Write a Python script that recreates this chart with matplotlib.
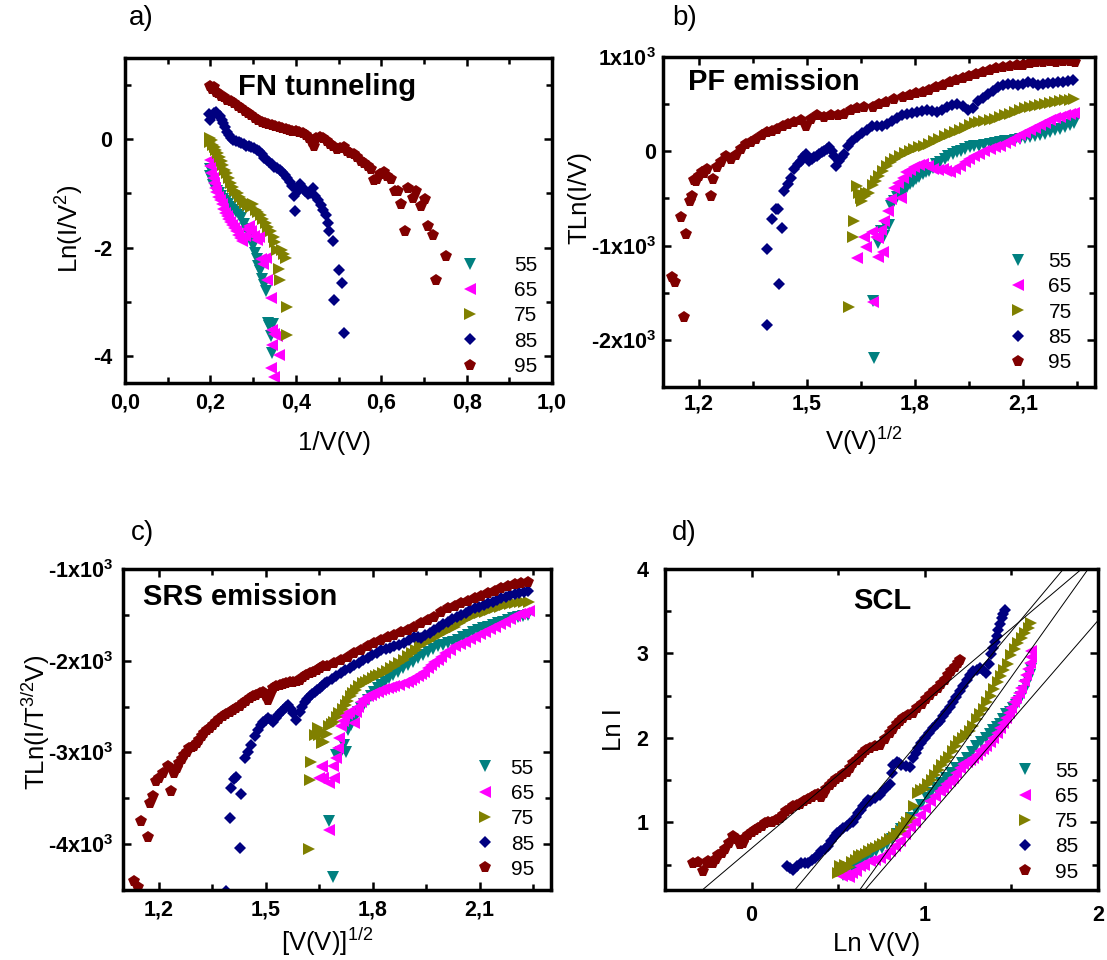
import matplotlib
matplotlib.use('Agg')
import matplotlib.pyplot as plt
import numpy as np

plt.rcParams['font.family'] = 'Liberation Sans'
plt.rcParams['mathtext.fontset'] = 'custom'
plt.rcParams['mathtext.rm'] = 'Liberation Sans'
plt.rcParams['mathtext.it'] = 'Liberation Sans:italic'
plt.rcParams['mathtext.bf'] = 'Liberation Sans:bold'

temps = ['55', '65', '75', '85', '95']
colors = ['#008080', '#ff00ff', '#808000', '#000080', '#800000']
markers = ['v', '<', '>', 'D', 'p']
msizes = [8.6, 8.6, 8.6, 6.1, 8.4]

# a) FN tunneling : (1/V, Ln(I/V^2))
a55 = [(0.198,-0.55),(0.200,-0.68),(0.203,-0.76),(0.207,-0.84),(0.211,-0.90),(0.215,-0.96),(0.220,-1.00),
       (0.225,-1.05),(0.230,-1.10),(0.236,-1.14),(0.242,-1.20),(0.248,-1.25),(0.254,-1.30),(0.260,-1.35),
       (0.266,-1.40),(0.272,-1.46),(0.278,-1.56),(0.284,-1.66),(0.290,-1.76),(0.296,-1.86),(0.300,-1.98),
       (0.304,-2.10),(0.308,-2.22),(0.312,-2.34),(0.316,-2.44),(0.321,-2.58),(0.326,-2.70),(0.330,-2.80),
       (0.334,-3.40),(0.338,-3.45),(0.341,-3.64),(0.346,-3.42),(0.345,-3.95)]
a65 = [(0.198,-0.38),(0.200,-0.50),(0.202,-0.62),(0.205,-0.72),(0.208,-0.80),(0.211,-0.90),(0.214,-0.98),
       (0.218,-1.06),(0.222,-1.12),(0.226,-1.20),(0.230,-1.28),(0.234,-1.36),(0.238,-1.42),(0.242,-1.48),
       (0.246,-1.53),(0.250,-1.58),(0.255,-1.64),(0.260,-1.70),(0.265,-1.76),(0.270,-1.82),(0.275,-1.87),
       (0.280,-1.78),(0.285,-1.65),(0.290,-1.60),(0.296,-1.70),(0.302,-1.78),(0.308,-1.86),(0.314,-1.80),
       (0.318,-2.22),(0.324,-2.30),(0.330,-2.20),(0.333,-2.60),(0.341,-2.93),(0.345,-3.52),(0.350,-3.60),
       (0.356,-3.64),(0.345,-3.80),(0.360,-3.98),(0.341,-4.23),(0.349,-4.38)]
a75 = [(0.198,0.02),(0.200,-0.05),(0.203,-0.02),(0.206,-0.10),(0.210,-0.14),(0.214,-0.20),(0.218,-0.26),
       (0.222,-0.32),(0.226,-0.40),(0.230,-0.48),(0.234,-0.56),(0.238,-0.63),(0.243,-0.72),(0.248,-0.80),
       (0.253,-0.88),(0.258,-0.95),(0.264,-1.00),(0.270,-1.06),(0.276,-1.12),(0.282,-1.18),(0.288,-1.22),
       (0.294,-1.25),(0.300,-1.20),(0.306,-1.30),(0.312,-1.35),(0.318,-1.40),(0.324,-1.47),(0.330,-1.55),
       (0.336,-1.62),(0.342,-1.70),(0.348,-1.80),(0.352,-1.90),(0.356,-2.05),(0.360,-2.40),(0.364,-2.60),
       (0.368,-2.05),(0.372,-2.12),(0.376,-2.20),(0.380,-3.09),(0.380,-3.61)]
a85 = [(0.197,0.47),(0.200,0.36),(0.204,0.42),(0.208,0.48),(0.213,0.50),(0.218,0.45),(0.222,0.42),
       (0.226,0.36),(0.230,0.30),(0.234,0.22),(0.238,0.14),(0.243,0.07),(0.248,0.02),(0.254,-0.01),
       (0.260,-0.03),(0.266,-0.05),(0.272,-0.07),(0.278,-0.09),(0.284,-0.12),(0.290,-0.13),(0.296,-0.15),
       (0.302,-0.16),(0.308,-0.19),(0.314,-0.22),(0.320,-0.27),(0.326,-0.34),(0.332,-0.39),(0.338,-0.42),
       (0.344,-0.46),(0.350,-0.51),(0.356,-0.54),(0.362,-0.56),(0.368,-0.60),(0.374,-0.66),(0.380,-0.72),
       (0.386,-0.79),(0.392,-0.86),(0.396,-1.05),(0.399,-1.33),(0.404,-0.95),(0.410,-0.82),(0.416,-0.90),
       (0.422,-0.96),(0.428,-1.02),(0.434,-1.00),(0.440,-0.90),(0.446,-1.05),(0.452,-1.13),(0.458,-1.22),
       (0.464,-1.30),(0.470,-1.40),(0.475,-1.55),(0.478,-1.70),(0.486,-1.88),(0.489,-2.96),(0.501,-2.41),
       (0.509,-2.66),(0.512,-3.57)]
a95 = [(0.200,0.98),(0.204,0.93),(0.208,0.96),(0.212,0.87),(0.218,0.85),(0.225,0.80),(0.232,0.78),
       (0.240,0.72),(0.248,0.70),(0.256,0.66),(0.264,0.62),(0.272,0.57),(0.280,0.53),(0.288,0.48),
       (0.296,0.44),(0.304,0.40),(0.312,0.36),(0.320,0.32),(0.328,0.30),(0.336,0.28),(0.344,0.27),
       (0.352,0.25),(0.360,0.22),(0.368,0.21),(0.376,0.18),(0.384,0.17),(0.392,0.15),(0.400,0.16),
       (0.408,0.14),(0.416,0.11),(0.424,0.08),(0.432,0.02),(0.438,-0.05),(0.442,-0.12),(0.448,0.02),
       (0.456,0.04),(0.464,0.02),(0.472,-0.04),(0.480,-0.09),(0.488,-0.13),(0.496,-0.18),(0.504,-0.17),
       (0.512,-0.15),(0.520,-0.21),(0.528,-0.25),(0.536,-0.28),(0.544,-0.32),(0.552,-0.40),(0.560,-0.44),
       (0.568,-0.50),(0.576,-0.55),(0.583,-0.76),(0.590,-0.74),(0.598,-0.65),(0.606,-0.61),(0.614,-0.68),
       (0.622,-0.74),(0.633,-0.96),(0.640,-0.96),(0.647,-1.20),(0.655,-1.70),(0.662,-0.90),(0.674,-1.08),
       (0.682,-0.96),(0.694,-1.23),(0.702,-1.11),(0.709,-1.60),(0.721,-1.76),(0.729,-2.60),(0.752,-2.16)]

# b) PF emission : (V^1/2, T Ln(I/V))
b55 = [(1.687,-2190),(1.682,-1590),(1.696,-975),(1.706,-850),(1.713,-900),(1.720,-796),(1.729,-779),
       (1.734,-582),(1.743,-529),(1.750,-490),(1.757,-457),(1.764,-430),(1.771,-404),(1.778,-377),
       (1.785,-350),(1.794,-323),(1.803,-296),(1.812,-270),(1.822,-243),(1.831,-225),(1.840,-207),
       (1.850,-172),(1.859,-136),(1.870,-110),(1.882,-82),(1.893,-55),(1.905,-29),(1.917,-11),(1.928,7),
       (1.940,25),(1.952,43),(1.965,52),(1.979,61),(1.993,70),(2.007,79),(2.021,88),(2.035,96),(2.049,105),
       (2.063,114),(2.077,123),(2.091,132),(2.105,141),(2.119,150),(2.133,159),(2.146,168),(2.160,186),
       (2.174,204),(2.188,221),(2.202,239),(2.216,260),(2.230,280),(2.242,300)]
b65 = [(1.682,-1600),(1.640,-1135),(1.659,-904),(1.664,-1011),(1.680,-860),(1.692,-904),(1.697,-921),
       (1.697,-1118),(1.710,-1064),(1.706,-832),(1.715,-740),(1.724,-636),(1.734,-511),(1.743,-386),
       (1.752,-332),(1.761,-493),(1.768,-280),(1.775,-225),(1.786,-195),(1.798,-171),(1.810,-150),
       (1.822,-136),(1.836,-160),(1.850,-189),(1.863,-195),(1.877,-189),(1.887,-210),(1.896,-225),
       (1.910,-190),(1.924,-154),(1.938,-118),(1.951,-82),(1.965,-55),(1.979,-29),(1.993,0),(2.007,25),
       (2.021,45),(2.035,61),(2.049,90),(2.063,114),(2.077,140),(2.091,168),(2.105,195),(2.119,221),
       (2.133,250),(2.146,275),(2.160,300),(2.174,329),(2.188,350),(2.202,365),(2.216,380),(2.230,395),
       (2.242,405)]
b75 = [(1.617,-1654),(1.627,-914),(1.630,-736),(1.640,-368),(1.645,-440),(1.650,-493),(1.654,-529),
       (1.660,-470),(1.664,-439),(1.673,-439),(1.682,-360),(1.692,-314),(1.701,-260),(1.710,-207),
       (1.722,-160),(1.733,-118),(1.745,-80),(1.757,-46),(1.771,-20),(1.785,7),(1.798,25),(1.812,43),
       (1.826,60),(1.840,79),(1.854,105),(1.868,132),(1.882,160),(1.896,186),(1.910,205),(1.924,221),
       (1.938,250),(1.952,275),(1.966,295),(1.979,311),(1.993,320),(2.007,329),(2.021,345),(2.035,364),
       (2.049,380),(2.063,400),(2.077,420),(2.091,436),(2.105,455),(2.119,471),(2.133,480),(2.146,489),
       (2.160,505),(2.174,515),(2.188,525),(2.202,532),(2.216,540),(2.230,548),(2.242,550)]
b85 = [(1.390,-1843),(1.390,-1036),(1.404,-714),(1.413,-607),(1.420,-610),(1.430,-814),(1.423,-1404),
       (1.437,-421),(1.446,-350),(1.455,-279),(1.464,-189),(1.474,-136),(1.483,-100),(1.490,-60),
       (1.497,-29),(1.506,-100),(1.513,-80),(1.520,-64),(1.527,-50),(1.534,-29),(1.541,-10),(1.548,7),
       (1.555,25),(1.562,43),(1.569,0),(1.576,-46),(1.580,-154),(1.589,-100),(1.596,-60),(1.603,-29),
       (1.613,61),(1.626,114),(1.640,150),(1.652,190),(1.666,221),(1.680,270),(1.694,265),(1.708,270),
       (1.722,290),(1.736,320),(1.750,350),(1.764,380),(1.778,400),(1.792,405),(1.806,418),(1.820,425),
       (1.834,436),(1.848,430),(1.862,418),(1.876,440),(1.890,465),(1.904,490),(1.918,505),(1.932,480),
       (1.946,440),(1.960,460),(1.974,530),(1.988,570),(2.002,605),(2.016,640),(2.030,680),(2.044,700),
       (2.058,715),(2.072,710),(2.086,700),(2.100,715),(2.114,730),(2.128,720),(2.142,705),(2.156,712),
       (2.170,720),(2.184,728),(2.198,735),(2.212,740),(2.226,750),(2.240,760)]
b95 = [(1.126,-1330),(1.133,-1390),(1.158,-1760),(1.150,-700),(1.165,-880),(1.175,-530),(1.181,-470),
       (1.186,-300),(1.193,-320),(1.200,-260),(1.207,-220),(1.214,-230),(1.223,-190),(1.232,-470),
       (1.240,-290),(1.251,-170),(1.260,-110),(1.274,-50),(1.288,-80),(1.302,-40),(1.316,20),(1.330,80),
       (1.344,100),(1.358,130),(1.376,170),(1.390,200),(1.404,220),(1.418,240),(1.432,270),(1.446,290),
       (1.464,310),(1.483,330),(1.497,270),(1.511,345),(1.529,380),(1.548,365),(1.566,385),(1.585,380),
       (1.604,400),(1.622,435),(1.640,455),(1.659,470),(1.682,470),(1.701,500),(1.720,525),(1.743,555),
       (1.766,580),(1.785,595),(1.803,615),(1.822,630),(1.840,650),(1.859,680),(1.877,705),(1.896,730),
       (1.914,755),(1.933,775),(1.951,795),(1.970,820),(1.989,845),(2.007,865),(2.026,880),(2.045,890),
       (2.063,900),(2.082,910),(2.100,920),(2.119,935),(2.137,945),(2.156,950),(2.174,955),(2.193,950),
       (2.211,958),(2.230,962),(2.245,950)]

# c) SRS emission : ([V]^1/2, T Ln(I/T^3/2 V))
c55 = [(1.688,-4353),(1.678,-3753),(1.697,-3026),(1.711,-2990),(1.720,-2917),(1.725,-2990),(1.730,-2754),
       (1.739,-2699),(1.746,-2650),(1.753,-2608),(1.760,-2560),(1.767,-2517),(1.776,-2472),(1.786,-2427),
       (1.795,-2380),(1.805,-2336),(1.814,-2300),(1.823,-2263),(1.835,-2227),(1.847,-2190),(1.858,-2154),
       (1.870,-2118),(1.884,-2081),(1.898,-2045),(1.912,-2009),(1.927,-1973),(1.941,-1936),(1.955,-1900),
       (1.969,-1872),(1.983,-1845),(1.997,-1827),(2.011,-1809),(2.025,-1791),(2.039,-1773),(2.053,-1745),
       (2.067,-1718),(2.081,-1691),(2.095,-1664),(2.109,-1645),(2.123,-1627),(2.138,-1609),(2.152,-1591),
       (2.166,-1573),(2.180,-1555),(2.194,-1536),(2.208,-1518),(2.222,-1510),(2.236,-1500)]
c65 = [(1.678,-3844),(1.650,-3281),(1.657,-3164),(1.661,-3281),(1.659,-3153),(1.678,-3335),(1.692,-3281),
       (1.688,-3153),(1.697,-3063),(1.702,-2950),(1.706,-2845),(1.711,-2717),(1.716,-2660),(1.720,-2608),
       (1.727,-2580),(1.734,-2554),(1.748,-2681),(1.753,-2554),(1.760,-2500),(1.767,-2445),(1.776,-2418),
       (1.786,-2390),(1.795,-2372),(1.805,-2354),(1.814,-2336),(1.823,-2318),(1.833,-2309),(1.842,-2300),
       (1.851,-2290),(1.861,-2281),(1.875,-2263),(1.889,-2245),(1.898,-2227),(1.908,-2209),(1.917,-2190),
       (1.927,-2172),(1.936,-2145),(1.945,-2118),(1.955,-2082),(1.964,-2045),(1.973,-2018),(1.983,-1991),
       (1.992,-1955),(2.002,-1918),(2.016,-1882),(2.030,-1845),(2.044,-1818),(2.058,-1791),(2.072,-1763),
       (2.086,-1736),(2.100,-1709),(2.114,-1682),(2.128,-1655),(2.142,-1627),(2.156,-1600),(2.170,-1573),
       (2.184,-1540),(2.198,-1510),(2.212,-1490),(2.225,-1475),(2.238,-1460)]
c75 = [(1.622,-4055),(1.624,-3299),(1.627,-3099),(1.638,-2808),(1.647,-2735),(1.650,-2808),(1.657,-2899),
       (1.661,-2790),(1.664,-2881),(1.671,-2800),(1.678,-2717),(1.685,-2690),(1.692,-2663),(1.699,-2618),
       (1.706,-2572),(1.716,-2526),(1.725,-2481),(1.732,-2435),(1.739,-2390),(1.746,-2354),(1.753,-2318),
       (1.762,-2281),(1.772,-2245),(1.781,-2227),(1.791,-2209),(1.800,-2190),(1.809,-2172),(1.818,-2154),
       (1.828,-2136),(1.840,-2108),(1.852,-2081),(1.863,-2054),(1.875,-2027),(1.887,-1990),(1.898,-1954),
       (1.910,-1918),(1.922,-1882),(1.933,-1845),(1.945,-1809),(1.959,-1781),(1.973,-1754),(1.987,-1718),
       (2.002,-1682),(2.016,-1655),(2.030,-1627),(2.044,-1591),(2.058,-1555),(2.072,-1527),(2.086,-1500),
       (2.100,-1482),(2.114,-1464),(2.128,-1445),(2.142,-1427),(2.156,-1410),(2.170,-1390),(2.184,-1380),
       (2.198,-1370),(2.212,-1365),(2.225,-1360),(2.238,-1355)]
c85 = [(1.390,-4510),(1.399,-3717),(1.427,-4044),(1.403,-3390),(1.410,-3290),(1.416,-3273),(1.432,-3455),
       (1.441,-3063),(1.450,-2990),(1.460,-2917),(1.469,-2826),(1.478,-2754),(1.486,-2700),(1.493,-2663),
       (1.500,-2645),(1.507,-2627),(1.514,-2645),(1.521,-2663),(1.528,-2625),(1.535,-2590),(1.542,-2563),
       (1.549,-2536),(1.556,-2508),(1.563,-2481),(1.570,-2530),(1.577,-2572),(1.586,-2645),(1.596,-2554),
       (1.603,-2500),(1.610,-2445),(1.617,-2418),(1.624,-2390),(1.631,-2363),(1.638,-2336),(1.645,-2318),
       (1.652,-2300),(1.659,-2272),(1.666,-2245),(1.673,-2227),(1.685,-2200),(1.697,-2170),(1.711,-2136),
       (1.723,-2105),(1.736,-2075),(1.748,-2045),(1.761,-2020),(1.773,-1997),(1.786,-1973),(1.798,-1943),
       (1.811,-1912),(1.823,-1882),(1.836,-1870),(1.849,-1857),(1.861,-1845),(1.875,-1827),(1.889,-1809),
       (1.903,-1772),(1.917,-1736),(1.927,-1745),(1.936,-1754),(1.948,-1724),(1.961,-1694),(1.973,-1664),
       (1.986,-1633),(1.998,-1603),(2.011,-1573),(2.023,-1548),(2.036,-1524),(2.048,-1500),(2.061,-1476),
       (2.073,-1451),(2.086,-1427),(2.098,-1409),(2.111,-1391),(2.123,-1373),(2.136,-1360),(2.148,-1340),
       (2.161,-1320),(2.173,-1300),(2.186,-1285),(2.198,-1270),(2.211,-1260),(2.223,-1250),(2.235,-1240)]
c95 = [(1.132,-4407),(1.141,-4462),(1.151,-3753),(1.169,-3917),(1.176,-3553),(1.183,-3480),(1.193,-3310),
       (1.200,-3281),(1.211,-3226),(1.225,-3153),(1.235,-3426),(1.244,-3226),(1.251,-3170),(1.258,-3117),
       (1.265,-3070),(1.272,-3026),(1.279,-2990),(1.286,-2954),(1.293,-2945),(1.300,-2935),(1.307,-2900),
       (1.314,-2863),(1.321,-2826),(1.328,-2790),(1.335,-2760),(1.343,-2736),(1.352,-2700),(1.361,-2663),
       (1.370,-2635),(1.380,-2608),(1.390,-2580),(1.399,-2554),(1.408,-2535),(1.418,-2517),(1.427,-2490),
       (1.436,-2463),(1.446,-2435),(1.455,-2408),(1.465,-2390),(1.474,-2372),(1.483,-2354),(1.492,-2336),
       (1.500,-2380),(1.507,-2427),(1.514,-2350),(1.521,-2299),(1.530,-2280),(1.539,-2263),(1.549,-2254),
       (1.558,-2245),(1.568,-2236),(1.577,-2227),(1.587,-2218),(1.596,-2209),(1.605,-2180),(1.614,-2154),
       (1.624,-2136),(1.633,-2118),(1.643,-2100),(1.652,-2081),(1.662,-2060),(1.673,-2063),(1.692,-2027),
       (1.711,-1991),(1.730,-1955),(1.748,-1918),(1.767,-1882),(1.786,-1845),(1.805,-1809),(1.823,-1773),
       (1.842,-1745),(1.861,-1718),(1.880,-1691),(1.898,-1664),(1.917,-1627),(1.936,-1591),(1.955,-1555),
       (1.973,-1518),(1.992,-1473),(2.011,-1427),(2.030,-1400),(2.048,-1373),(2.067,-1345),(2.086,-1318),
       (2.105,-1291),(2.123,-1264),(2.142,-1236),(2.161,-1209),(2.180,-1180),(2.198,-1160),(2.217,-1150),
       (2.235,-1140)]

# d) SCL : (Ln V, Ln I)
d55 = [(0.51,0.42),(0.53,0.38),(0.55,0.40),(0.57,0.43),(0.59,0.46),(0.61,0.50),(0.63,0.54),(0.663,0.58),
       (0.69,0.62),(0.721,0.66),(0.75,0.70),(0.779,0.74),(0.808,0.80),(0.837,0.86),(0.865,0.92),(0.894,0.98),
       (0.923,1.05),(0.952,1.13),(0.980,1.21),(1.010,1.29),(1.038,1.35),(1.067,1.41),(1.096,1.47),(1.125,1.53),
       (1.154,1.59),(1.183,1.65),(1.212,1.70),(1.241,1.76),(1.270,1.83),(1.298,1.90),(1.327,1.95),(1.356,2.00),
       (1.375,2.05),(1.394,2.10),(1.414,2.13),(1.433,2.16),(1.452,2.22),(1.471,2.28),(1.490,2.31),(1.510,2.35),
       (1.529,2.39),(1.544,2.44),(1.558,2.49),(1.573,2.56),(1.587,2.63),(1.597,2.69),(1.606,2.75),(1.611,2.82)]
d65 = [(0.52,0.36),(0.54,0.38),(0.56,0.35),(0.58,0.40),(0.60,0.42),(0.625,0.48),(0.65,0.50),(0.683,0.54),
       (0.71,0.56),(0.741,0.58),(0.77,0.62),(0.798,0.66),(0.827,0.72),(0.856,0.78),(0.884,0.86),(0.913,0.94),
       (0.942,1.01),(0.971,1.09),(1.000,1.17),(1.029,1.25),(1.058,1.31),(1.087,1.37),(1.106,1.41),(1.125,1.45),
       (1.145,1.49),(1.164,1.53),(1.183,1.59),(1.202,1.65),(1.222,1.69),(1.241,1.72),(1.260,1.74),(1.279,1.76),
       (1.299,1.80),(1.318,1.84),(1.337,1.87),(1.356,1.90),(1.375,1.95),(1.394,2.00),(1.414,2.06),(1.433,2.12),
       (1.452,2.18),(1.471,2.24),(1.486,2.30),(1.500,2.36),(1.515,2.42),(1.529,2.47),(1.544,2.53),(1.558,2.59),
       (1.573,2.67),(1.587,2.75),(1.597,2.82),(1.606,2.89),(1.611,2.96),(1.616,3.03)]
d75 = [(0.50,0.40),(0.51,0.48),(0.52,0.42),(0.54,0.50),(0.56,0.47),(0.58,0.53),(0.60,0.55),(0.62,0.60),
       (0.64,0.62),(0.66,0.63),(0.68,0.66),(0.70,0.68),(0.72,0.70),(0.74,0.72),(0.76,0.75),(0.78,0.77),
       (0.80,0.80),(0.82,0.83),(0.84,0.86),(0.86,0.90),(0.88,0.95),(0.90,1.00),(0.92,1.05),(0.94,1.20),
       (0.96,1.35),(0.98,1.38),(1.00,1.40),(1.02,1.45),(1.04,1.50),(1.06,1.56),(1.08,1.62),(1.10,1.68),
       (1.12,1.73),(1.14,1.78),(1.16,1.84),(1.18,1.90),(1.20,1.96),(1.22,2.00),(1.24,2.04),(1.26,2.08),
       (1.28,2.14),(1.30,2.22),(1.32,2.28),(1.34,2.34),(1.36,2.42),(1.38,2.50),(1.40,2.58),(1.42,2.66),
       (1.44,2.73),(1.46,2.80),(1.48,2.88),(1.50,2.98),(1.52,3.05),(1.54,3.12),(1.56,3.18),(1.58,3.24),
       (1.60,3.30),(1.615,3.36)]
d85 = [(0.202,0.48),(0.220,0.46),(0.240,0.44),(0.264,0.48),(0.288,0.52),(0.307,0.52),(0.327,0.52),
       (0.346,0.55),(0.365,0.58),(0.384,0.62),(0.403,0.66),(0.422,0.69),(0.442,0.72),(0.461,0.78),
       (0.480,0.84),(0.495,0.87),(0.510,0.90),(0.529,0.93),(0.548,0.96),(0.568,0.99),(0.587,1.01),
       (0.601,1.06),(0.615,1.11),(0.630,1.15),(0.644,1.19),(0.658,1.23),(0.673,1.27),(0.683,1.25),
       (0.712,1.29),(0.741,1.32),(0.770,1.39),(0.798,1.46),(0.808,1.58),(0.817,1.68),(0.837,1.72),
       (0.851,1.70),(0.865,1.68),(0.889,1.67),(0.913,1.66),(0.933,1.76),(0.947,1.82),(0.960,1.88),
       (0.980,1.94),(0.999,2.00),(1.024,2.06),(1.048,2.12),(1.068,2.16),(1.087,2.20),(1.106,2.26),
       (1.125,2.31),(1.145,2.37),(1.164,2.43),(1.183,2.49),(1.202,2.55),(1.222,2.62),(1.241,2.69),
       (1.260,2.74),(1.279,2.79),(1.299,2.81),(1.318,2.83),(1.337,2.80),(1.356,2.77),(1.370,2.88),
       (1.385,2.99),(1.394,3.06),(1.404,3.14),(1.414,3.21),(1.423,3.28),(1.433,3.35),(1.443,3.42),
       (1.452,3.47),(1.462,3.52)]
d95 = [(-0.337,0.52),(-0.310,0.53),(-0.279,0.42),(-0.260,0.52),(-0.250,0.54),(-0.222,0.52),(-0.205,0.57),
       (-0.192,0.61),(-0.172,0.64),(-0.154,0.68),(-0.130,0.76),(-0.106,0.84),(-0.086,0.80),(-0.067,0.74),
       (-0.050,0.76),(-0.039,0.81),(-0.020,0.85),(0.000,0.89),(0.019,0.91),(0.038,0.93),(0.058,0.96),
       (0.077,0.99),(0.096,1.00),(0.115,1.01),(0.139,1.03),(0.163,1.05),(0.182,1.09),(0.200,1.13),
       (0.220,1.16),(0.240,1.19),(0.260,1.21),(0.279,1.22),(0.303,1.25),(0.327,1.28),(0.346,1.30),
       (0.365,1.32),(0.384,1.34),(0.403,1.30),(0.418,1.35),(0.432,1.40),(0.452,1.44),(0.471,1.48),
       (0.490,1.51),(0.510,1.54),(0.529,1.57),(0.548,1.60),(0.568,1.65),(0.587,1.70),(0.606,1.74),
       (0.625,1.78),(0.644,1.82),(0.663,1.86),(0.683,1.88),(0.712,1.90),(0.741,1.92),(0.770,1.99),
       (0.798,2.06),(0.818,2.11),(0.837,2.16),(0.856,2.20),(0.875,2.24),(0.904,2.27),(0.933,2.30),
       (0.957,2.35),(0.981,2.40),(1.005,2.46),(1.029,2.51),(1.053,2.55),(1.077,2.59),(1.096,2.64),
       (1.116,2.69),(1.135,2.74),(1.154,2.79),(1.173,2.84),(1.192,2.89),(1.205,2.92)]

# linear SCL fits drawn in d): slope, intercept
fit_slope = [1.735, 2.45, 2.88, 2.37]
fit_icpt = [0.694, -0.411, -1.597, -1.35]

W, H = 1107, 960

def fx(px):
    return px / W

def fy(py):
    return 1 - py / H

def rect(l, t, r, b):
    return [fx(l), fy(b), (r - l) / W, (b - t) / H]

def scatter_all(ax, series):
    for s, lab, c, m, ms in zip(series, temps, colors, markers, msizes):
        x, y = zip(*s)
        ax.plot(x, y, linestyle='none', marker=m, ms=ms, mew=0, color=c, label=lab)

def style(ax, xpad, ypad):
    for sp in ax.spines.values():
        sp.set_linewidth(2.5)
    ax.tick_params(which='both', direction='in', top=True, right=True, width=1.8,
                   labelsize=15.5)
    ax.tick_params(which='major', length=6)
    ax.tick_params(which='minor', length=4)
    ax.tick_params(axis='x', pad=xpad)
    ax.tick_params(axis='y', pad=ypad)
    for t in ax.get_xticklabels() + ax.get_yticklabels():
        t.set_fontweight('bold')

def legend(ax, x, y, tpad):
    ax.legend(loc='lower right', bbox_to_anchor=(x, y), frameon=False, fontsize=15,
              borderpad=0, borderaxespad=0, handlelength=1.0, handletextpad=tpad,
              labelspacing=0.3, numpoints=1)

fig = plt.figure(figsize=(11.07, 9.6), dpi=100)

# a)
ax = fig.add_axes(rect(125, 58, 552, 383))
scatter_all(ax, [a55, a65, a75, a85, a95])
ax.set_xlim(0, 1.0)
ax.set_ylim(-4.5, 1.5)
ax.set_xticks([0, 0.2, 0.4, 0.6, 0.8, 1.0], ['0,0', '0,2', '0,4', '0,6', '0,8', '1,0'])
ax.set_xticks([0.1, 0.3, 0.5, 0.7, 0.9], minor=True)
ax.set_yticks([-4, -2, 0], ['-4', '-2', '0'])
ax.set_yticks([-3, -1, 1], minor=True)
style(ax, 7, 9)
legend(ax, 0.966, 0.022, 1.6)

# b)
ax = fig.add_axes(rect(663, 57, 1095, 387))
scatter_all(ax, [b55, b65, b75, b85, b95])
ax.set_xlim(1.1, 2.3)
ax.set_ylim(-2500, 1000)
ax.set_xticks([1.2, 1.5, 1.8, 2.1], ['1,2', '1,5', '1,8', '2,1'])
ax.set_xticks([1.35, 1.65, 1.95, 2.25], minor=True)
ax.set_yticks([-2000, -1000, 0, 1000],
              ['-2x10$^{\\mathbf{3}}$', '-1x10$^{\\mathbf{3}}$', '0', '1x10$^{\\mathbf{3}}$'])
ax.set_yticks([-1500, -500, 500], minor=True)
style(ax, 5, 5)
legend(ax, 0.946, 0.045, 0.94)

# c)
ax = fig.add_axes(rect(123, 569, 551, 890))
scatter_all(ax, [c55, c65, c75, c85, c95])
ax.set_xlim(1.1, 2.3)
ax.set_ylim(-4500, -1000)
ax.set_xticks([1.2, 1.5, 1.8, 2.1], ['1,2', '1,5', '1,8', '2,1'])
ax.set_xticks([1.35, 1.65, 1.95, 2.25], minor=True)
ax.set_yticks([-4000, -3000, -2000, -1000],
              ['-4x10$^{\\mathbf{3}}$', '-3x10$^{\\mathbf{3}}$', '-2x10$^{\\mathbf{3}}$',
               '-1x10$^{\\mathbf{3}}$'])
ax.set_yticks([-3500, -2500, -1500], minor=True)
style(ax, 7, 7)
legend(ax, 0.960, 0.035, 0.75)

# d)
ax = fig.add_axes(rect(665, 569, 1098, 890))
scatter_all(ax, [d55, d65, d75, d85, d95])
ax.set_xlim(-0.5, 2.0)
ax.set_ylim(0.2, 4.0)
xs = np.array(ax.get_xlim())
for s, b in zip(fit_slope, fit_icpt):
    ax.plot(xs, s * xs + b, color='black', lw=0.7, zorder=3)
ax.set_xticks([0, 1, 2], ['0', '1', '2'])
ax.set_xticks([-0.5, 0.5, 1.5], minor=True)
ax.set_yticks([1, 2, 3, 4], ['1', '2', '3', '4'])
ax.set_yticks([0.5, 1.5, 2.5, 3.5], minor=True)
style(ax, 11, 12)
legend(ax, 0.954, 0.026, 0.94)

# panel letters, titles, axis labels
for txt, px, py in [('a)', 129, 25), ('b)', 672, 25), ('c)', 131, 540), ('d)', 672, 540)]:
    fig.text(fx(px), fy(py), txt, fontsize=20, ha='left', va='baseline')

for txt, px, py in [('FN tunneling', 238, 95), ('PF emission', 688, 90),
                    ('SRS emission', 143, 605), ('SCL', 853, 609)]:
    fig.text(fx(px), fy(py), txt, fontsize=21, fontweight='bold', ha='left', va='baseline')

fig.text(fx(334), fy(450), '1/V(V)', fontsize=18.5, ha='center', va='baseline')
fig.text(fx(864), fy(450), 'V(V)$^{1/2}$', fontsize=18.5, ha='center', va='baseline')
fig.text(fx(327), fy(951), '[V(V)]$^{1/2}$', fontsize=18.5, ha='center', va='baseline')
fig.text(fx(877), fy(951), 'Ln V(V)', fontsize=18.5, ha='center', va='baseline')

fig.text(fx(70), fy(229), 'Ln(I/V$^2$)', fontsize=18.5, rotation=90, ha='center', va='center')
fig.text(fx(579), fy(197), 'TLn(I/V)', fontsize=18.5, rotation=90, ha='center', va='center')
fig.text(fx(36), fy(722), 'TLn(I/T$^{3/2}$V)', fontsize=18.5, rotation=90, ha='center', va='center')
fig.text(fx(614), fy(730), 'Ln I', fontsize=18.5, rotation=90, ha='center', va='center')

fig.savefig('out.png', dpi=100)
